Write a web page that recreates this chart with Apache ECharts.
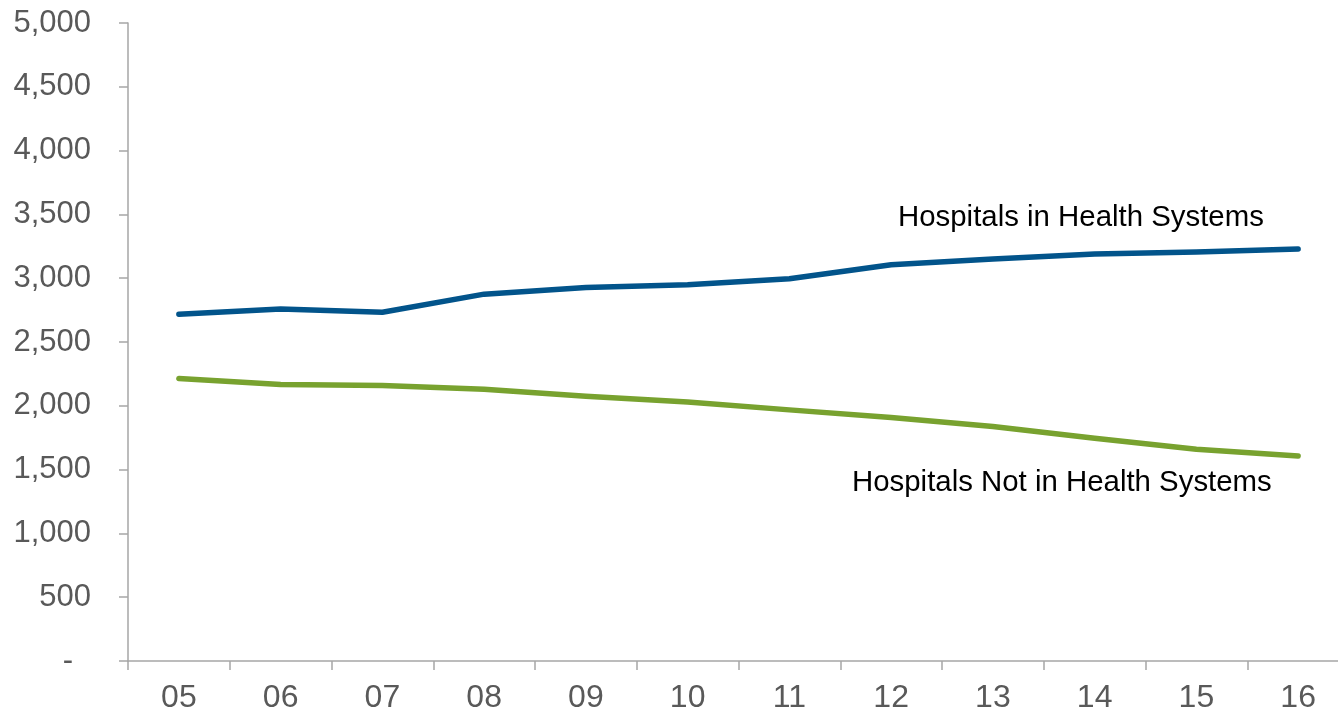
<!DOCTYPE html>
<html>
<head>
<meta charset="utf-8">
<script src="https://cdn.jsdelivr.net/npm/echarts@6/dist/echarts.min.js"></script>
<style>
html,body{margin:0;padding:0;background:#fff;}
#chart{width:1338px;height:714px;}
</style>
</head>
<body>
<div id="chart"></div>
<script>
var years = ['05','06','07','08','09','10','11','12','13','14','15','16'];
var inSystems = [2718, 2758, 2733, 2875, 2928, 2948, 2995, 3105, 3150, 3190, 3205, 3228];
var notInSystems = [2214, 2166, 2160, 2130, 2074, 2030, 1968, 1908, 1837, 1746, 1660, 1607];
var seriesNames = ['Hospitals in Health Systems', 'Hospitals Not in Health Systems'];
var yTicks = [0, 500, 1000, 1500, 2000, 2500, 3000, 3500, 4000, 4500, 5000];

var chart = echarts.init(document.getElementById('chart'));
var axisGray = '#a6a6a6';
var labelGray = '#595959';
var font = 'Liberation Sans, Arial, sans-serif';

chart.setOption({
  animation: false,
  backgroundColor: '#ffffff',
  grid: {left: 128, top: 23, height: 638, width: 1221, containLabel: false, outerBoundsMode: 'none'},
  xAxis: {
    type: 'category',
    data: years,
    boundaryGap: true,
    axisLine: {lineStyle: {color: axisGray, width: 1.5}},
    axisTick: {show: true, length: 9, alignWithLabel: false, lineStyle: {color: axisGray, width: 1.5}},
    axisLabel: {color: labelGray, fontSize: 32, fontFamily: font, margin: 21, interval: 0},
    splitLine: {show: false}
  },
  yAxis: {
    type: 'value',
    min: yTicks[0],
    max: yTicks[yTicks.length - 1],
    interval: 500,
    axisLine: {show: true, lineStyle: {color: axisGray, width: 1.5}},
    axisTick: {show: true, length: 9, lineStyle: {color: axisGray, width: 1.5}},
    splitLine: {show: false},
    axisLabel: {
      color: labelGray, fontSize: 31, fontFamily: font, margin: 37,
      formatter: function (v) {
        if (v === 0) return '{d|-}';
        return v.toLocaleString('en-US');
      },
      rich: {d: {color: labelGray, fontSize: 31, fontFamily: font, padding: [0, 18, 0, 0]}}
    }
  },
  series: [
    {
      name: seriesNames[0], type: 'line', data: inSystems, symbol: 'none',
      lineStyle: {color: '#02548b', width: 5.5, cap: 'round', join: 'round'}
    },
    {
      name: seriesNames[1], type: 'line', data: notInSystems, symbol: 'none',
      lineStyle: {color: '#78a22f', width: 5.5, cap: 'round', join: 'round'}
    }
  ],
  graphic: [
    {type: 'text', x: 898, y: 218, style: {text: seriesNames[0], fill: '#000', font: '29.4px ' + font, verticalAlign: 'middle', align: 'left'}},
    {type: 'text', x: 852, y: 483, style: {text: seriesNames[1], fill: '#000', font: '29.4px ' + font, verticalAlign: 'middle', align: 'left'}}
  ]
});
</script>
</body>
</html>
